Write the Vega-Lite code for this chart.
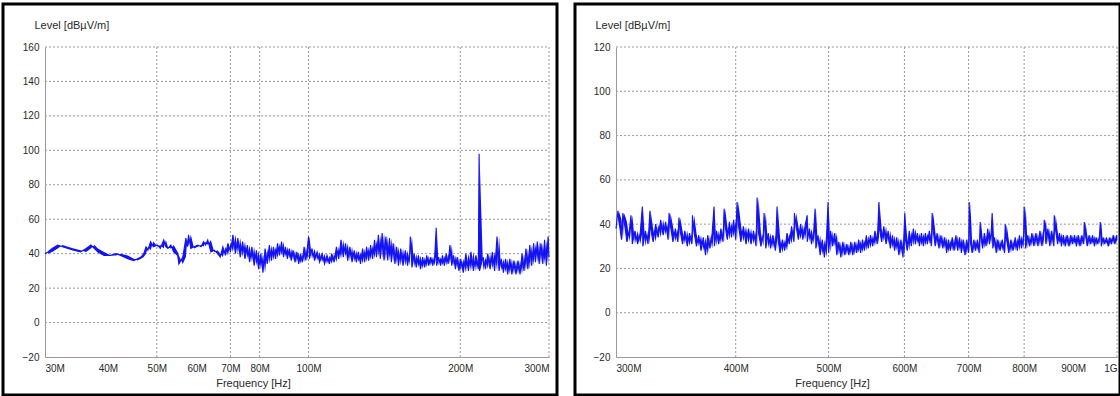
{
  "$schema": "https://vega.github.io/schema/vega-lite/v6.json",
  "padding": {"left": 1, "top": 2, "right": 2, "bottom": 1},
  "background": "white",
  "spacing": 18,
  "bounds": "flush",
  "config": {
    "view": {"stroke": "black", "strokeWidth": 3},
    "axis": {
      "labelFont": "Liberation Sans", "titleFont": "Liberation Sans",
      "labelFontSize": 10, "titleFontSize": 11, "titleFontWeight": "normal",
      "labelColor": "#2a2a2a", "titleColor": "#2a2a2a", "ticks": false,
      "domainColor": "#9a9a9a", "grid": false, "labelOverlap": false
    }
  },
  "datasets": {
    "a": [
      {"f":30,"v":40},{"f":30.4,"v":41},{"f":31,"v":43},{"f":31.8,"v":45},{"f":32.5,"v":44},{"f":33.3,"v":43},{"f":34.2,"v":42},{"f":35.3,"v":41},{"f":36.2,"v":43},{"f":37,"v":45},{"f":37.6,"v":43},{"f":38.2,"v":41},{"f":39.3,"v":39},{"f":40.5,"v":39},{"f":41.5,"v":40},{"f":42.4,"v":39},{"f":43.8,"v":37},{"f":45,"v":36},{"f":45.8,"v":37},{"f":46.5,"v":38},{"f":47.1,"v":40},{"f":47.6,"v":44},{"f":48,"v":42},{"f":48.6,"v":47},{"f":49.2,"v":44},{"f":50.2,"v":45},{"f":50.8,"v":43},{"f":51.6,"v":48},{"f":52.1,"v":44},{"f":52.6,"v":43},{"f":53.3,"v":45},{"f":54,"v":41},{"f":55,"v":39},{"f":55.3,"v":34},{"f":56.3,"v":38},{"f":57.1,"v":49},{"f":57.5,"v":44},{"f":57.8,"v":51},{"f":58.4,"v":43},{"f":59.3,"v":44},{"f":60.3,"v":45},{"f":61.2,"v":44},{"f":61.9,"v":47},{"f":62.5,"v":45},{"f":63.1,"v":48},{"f":64,"v":41},{"f":65,"v":42},{"f":66,"v":40},
      {"f":66.8,"v":38},{"f":67.6,"v":44},{"f":68.4,"v":39},{"f":69.2,"v":46},{"f":70,"v":41},{"f":70.8,"v":51},{"f":71.6,"v":40},{"f":72.4,"v":49},{"f":73.2,"v":38},{"f":74,"v":47},{"f":74.8,"v":37},{"f":75.6,"v":45},{"f":76.4,"v":35},{"f":77.2,"v":44},{"f":78,"v":33},{"f":78.8,"v":42},{"f":79.6,"v":31},{"f":80.4,"v":40},{"f":81.2,"v":29},{"f":82,"v":43},{"f":82.8,"v":34},{"f":83.6,"v":45},{"f":84.4,"v":36},{"f":85.2,"v":44},{"f":86,"v":37},{"f":86.8,"v":46},{"f":87.6,"v":39},{"f":88.4,"v":47},{"f":89.2,"v":38},{"f":90,"v":44},{"f":90.8,"v":37},{"f":91.6,"v":43},{"f":92.4,"v":36},{"f":93.2,"v":42},{"f":94,"v":35},{"f":94.8,"v":41},{"f":95.6,"v":34},{"f":96.4,"v":40},{"f":97.2,"v":35},{"f":98,"v":44},{"f":98.8,"v":36},{"f":99.6,"v":45},{"f":100,"v":50},{"f":100.4,"v":37},
      {"f":101.6,"v":43},{"f":102.8,"v":36},{"f":104,"v":41},{"f":105.2,"v":35},{"f":106.4,"v":40},{"f":107.6,"v":34},{"f":108.8,"v":39},{"f":110,"v":34},{"f":111.2,"v":40},{"f":112.4,"v":35},{"f":113.6,"v":44},{"f":114.8,"v":37},{"f":116,"v":48},{"f":117.2,"v":38},{"f":118.4,"v":46},{"f":119.6,"v":36},{"f":120.8,"v":44},{"f":122,"v":35},{"f":123.2,"v":42},{"f":124.4,"v":35},{"f":125.6,"v":41},{"f":126.8,"v":34},{"f":128,"v":43},{"f":129.2,"v":35},{"f":130.4,"v":44},{"f":131.6,"v":36},{"f":132.8,"v":45},{"f":134,"v":37},{"f":135.2,"v":48},{"f":136.4,"v":38},{"f":137.6,"v":51},{"f":138.8,"v":37},{"f":140,"v":52},{"f":141.2,"v":36},{"f":142.4,"v":50},{"f":143.6,"v":36},{"f":144.8,"v":49},{"f":146,"v":35},{"f":147.2,"v":46},{"f":148.4,"v":34},{"f":149.6,"v":44},
      {"f":150.8,"v":33},{"f":152.4,"v":43},{"f":154,"v":33},{"f":155.6,"v":42},{"f":157.2,"v":33},{"f":158.8,"v":41},{"f":159.2,"v":50},{"f":160.4,"v":32},{"f":162,"v":40},{"f":163.6,"v":32},{"f":165.2,"v":39},{"f":166.8,"v":31},{"f":168.4,"v":38},{"f":170,"v":32},{"f":171.6,"v":39},{"f":173.2,"v":33},{"f":174.8,"v":38},{"f":176.4,"v":33},{"f":178,"v":39},{"f":179.2,"v":55},{"f":179.6,"v":33},{"f":181.2,"v":38},{"f":182.8,"v":33},{"f":184.4,"v":39},{"f":186,"v":33},{"f":187.6,"v":40},{"f":189.2,"v":34},{"f":190.8,"v":45},{"f":192.4,"v":33},{"f":194,"v":39},{"f":195.6,"v":31},{"f":197.2,"v":38},{"f":198.8,"v":30},{"f":200.4,"v":37},
      {"f":202.8,"v":29},{"f":205.2,"v":40},{"f":207.6,"v":30},{"f":210,"v":41},{"f":212.4,"v":30},{"f":214.8,"v":39},{"f":217.2,"v":31},{"f":218,"v":98},{"f":218.4,"v":30},{"f":222,"v":38},{"f":224.4,"v":31},{"f":226.8,"v":40},{"f":229.2,"v":31},{"f":231.6,"v":41},{"f":234,"v":30},{"f":236.6,"v":50},{"f":238.8,"v":30},{"f":241.2,"v":37},{"f":243.6,"v":29},{"f":246,"v":37},{"f":248.4,"v":28},{"f":250.8,"v":37},{"f":253.2,"v":28},{"f":255.6,"v":36},{"f":258,"v":28},{"f":260.4,"v":36},{"f":262.8,"v":28},{"f":265.2,"v":40},{"f":267.6,"v":30},{"f":270,"v":43},{"f":272.4,"v":31},{"f":274.8,"v":45},{"f":277.2,"v":33},{"f":279.6,"v":46},{"f":282,"v":35},{"f":284.4,"v":47},{"f":286.8,"v":34},{"f":289.2,"v":46},{"f":291.6,"v":34},{"f":294,"v":48},{"f":296.4,"v":33},{"f":298.8,"v":50},{"f":300,"v":38}
    ],
    "b": [
      {"f":300,"v":38},{"f":301.4,"v":46},{"f":302,"v":42},{"f":304,"v":33},{"f":305,"v":45},{"f":306,"v":41},{"f":308,"v":32},{"f":310,"v":38},{"f":311,"v":44},{"f":312,"v":31},{"f":314,"v":37},{"f":316,"v":31},{"f":318,"v":36},{"f":319.6,"v":48},{"f":320,"v":30},{"f":322,"v":37},{"f":324,"v":31},{"f":325.5,"v":46},{"f":326,"v":38},{"f":328,"v":32},{"f":330,"v":40},{"f":332,"v":34},{"f":334,"v":42},{"f":336,"v":35},{"f":338,"v":41},{"f":340,"v":33},{"f":340.8,"v":45},{"f":342,"v":39},{"f":344,"v":32},{"f":346,"v":38},{"f":348,"v":32},{"f":349,"v":43},{"f":350,"v":37},{"f":352,"v":31},{"f":354,"v":37},{"f":356,"v":30},{"f":358,"v":36},{"f":360,"v":31},{"f":360.5,"v":44},{"f":362,"v":36},{"f":364,"v":30},{"f":366,"v":35},{"f":368,"v":28},{"f":370,"v":34},{"f":372,"v":26},{"f":374,"v":35},{"f":376,"v":29},{"f":378,"v":36},{"f":379.7,"v":48},{"f":380,"v":30},{"f":382,"v":37},{"f":384,"v":31},{"f":386,"v":38},{"f":388,"v":32},{"f":389,"v":47},{"f":390,"v":39},{"f":392,"v":33},{"f":394,"v":41},{"f":396,"v":34},{"f":398,"v":42},{"f":400,"v":33},
      {"f":401.3,"v":50},{"f":402.5,"v":40},{"f":405,"v":32},{"f":407.5,"v":39},{"f":410,"v":31},{"f":412.5,"v":38},{"f":415,"v":31},{"f":417.5,"v":37},{"f":420,"v":30},{"f":421.1,"v":52},{"f":422.5,"v":36},{"f":425,"v":30},{"f":427.5,"v":36},{"f":428.2,"v":45},{"f":430,"v":29},{"f":432.5,"v":36},{"f":435,"v":29},{"f":437.5,"v":35},{"f":440,"v":28},{"f":441.8,"v":48},{"f":442.5,"v":34},{"f":445,"v":27},{"f":447.5,"v":33},{"f":450,"v":28},{"f":452.5,"v":36},{"f":455,"v":31},{"f":457.5,"v":39},{"f":460,"v":32},{"f":460.6,"v":45},{"f":462.5,"v":39},{"f":465,"v":33},{"f":467.5,"v":40},{"f":470,"v":33},{"f":472.5,"v":39},{"f":474.9,"v":44},{"f":475,"v":32},{"f":477.5,"v":38},{"f":480,"v":31},{"f":482.5,"v":37},{"f":484.1,"v":47},{"f":485,"v":29},{"f":487.5,"v":35},{"f":490,"v":26},{"f":492.5,"v":33},{"f":495,"v":25},{"f":497.5,"v":34},{"f":499.4,"v":50},{"f":500,"v":27},{"f":502.5,"v":37},{"f":505,"v":30},{"f":507.5,"v":36},{"f":510,"v":26},{"f":512.5,"v":32},{"f":515,"v":25},{"f":517.5,"v":32},{"f":520,"v":26},{"f":522.5,"v":31},{"f":525,"v":26},{"f":527.5,"v":32},{"f":530,"v":26},{"f":532.5,"v":32},{"f":535,"v":27},{"f":537.5,"v":33},{"f":540,"v":27},{"f":542.5,"v":33},{"f":545,"v":28},{"f":547.5,"v":35},{"f":550,"v":29},
      {"f":553,"v":35},{"f":556,"v":30},{"f":559,"v":37},{"f":562,"v":31},{"f":564.3,"v":50},{"f":565,"v":38},{"f":568,"v":32},{"f":571,"v":39},{"f":574,"v":31},{"f":577,"v":37},{"f":580,"v":29},{"f":583,"v":35},{"f":586,"v":28},{"f":589,"v":34},{"f":592,"v":26},{"f":595,"v":33},{"f":598,"v":25},{"f":600.5,"v":45},{"f":601,"v":34},{"f":604,"v":28},{"f":607,"v":37},{"f":610,"v":30},{"f":613,"v":38},{"f":616,"v":31},{"f":619,"v":36},{"f":622,"v":30},{"f":625,"v":36},{"f":628,"v":30},{"f":631,"v":36},{"f":634,"v":31},{"f":637,"v":37},{"f":640,"v":30},{"f":641.3,"v":45},{"f":643,"v":37},{"f":646,"v":30},{"f":649,"v":36},{"f":652,"v":29},{"f":655,"v":35},{"f":658,"v":29},{"f":661,"v":34},{"f":664,"v":27},{"f":667,"v":33},{"f":670,"v":28},{"f":673,"v":34},{"f":676,"v":28},{"f":679,"v":35},{"f":682,"v":28},{"f":685,"v":34},{"f":688,"v":27},{"f":691,"v":33},{"f":694,"v":26},{"f":697,"v":33},{"f":700,"v":27},{"f":701,"v":50},{"f":703,"v":32},{"f":706,"v":27},{"f":709,"v":33},{"f":712,"v":28},{"f":715,"v":33},{"f":718,"v":27},{"f":719.8,"v":41},{"f":721,"v":34},{"f":724,"v":29},{"f":727,"v":36},{"f":730,"v":30},{"f":733,"v":38},{"f":736,"v":31},{"f":739,"v":36},{"f":740.8,"v":45},{"f":742,"v":29},{"f":745,"v":34},{"f":748,"v":27},
      {"f":751,"v":33},{"f":755,"v":28},{"f":759,"v":33},{"f":763,"v":27},{"f":764.4,"v":40},{"f":767,"v":33},{"f":771,"v":27},{"f":775,"v":33},{"f":779,"v":28},{"f":783,"v":34},{"f":787,"v":28},{"f":791,"v":35},{"f":795,"v":29},{"f":799,"v":35},{"f":800,"v":48},{"f":803,"v":29},{"f":807,"v":35},{"f":811,"v":30},{"f":815,"v":36},{"f":819,"v":30},{"f":823,"v":36},{"f":827,"v":30},{"f":831,"v":37},{"f":835,"v":30},{"f":839,"v":38},{"f":839.5,"v":42},{"f":843,"v":31},{"f":847,"v":38},{"f":851,"v":30},{"f":855,"v":37},{"f":859,"v":30},{"f":860,"v":44},{"f":863,"v":37},{"f":867,"v":31},{"f":871,"v":36},{"f":875,"v":30},{"f":879,"v":35},{"f":883,"v":30},{"f":887,"v":35},{"f":891,"v":30},{"f":895,"v":35},{"f":899,"v":31},{"f":903,"v":35},{"f":907,"v":30},{"f":911,"v":35},{"f":915,"v":30},{"f":919,"v":35},{"f":923,"v":31},{"f":924.3,"v":41},{"f":927,"v":35},{"f":931,"v":30},{"f":935,"v":35},{"f":939,"v":31},{"f":943,"v":35},{"f":947,"v":30},{"f":951,"v":34},{"f":955,"v":31},{"f":959,"v":35},{"f":960.5,"v":41},{"f":963,"v":30},{"f":967,"v":34},{"f":971,"v":31},{"f":975,"v":34},{"f":979,"v":30},{"f":983,"v":34},{"f":987,"v":31},{"f":991,"v":35},{"f":995,"v":31},{"f":999,"v":35},{"f":1000,"v":33}
    ],
    "gxa": [{"g":50},{"g":70},{"g":80},{"g":100},{"g":200},{"g":300}],
    "gya": [{"h":0},{"h":20},{"h":40},{"h":60},{"h":80},{"h":100},{"h":120},{"h":140},{"h":160}],
    "gxb": [{"g":400},{"g":500},{"g":600},{"g":700},{"g":800},{"g":1000}],
    "gyb": [{"h":0},{"h":20},{"h":40},{"h":60},{"h":80},{"h":100},{"h":120}]
  },
  "hconcat": [
    {
      "width": 554,
      "height": 391,
      "layer": [
        {
          "data": {"name": "gya"},
          "mark": {"type": "rule", "color": "#9a9a9a", "strokeWidth": 1, "strokeDash": [2, 2]},
          "encoding": {
            "y": {"field": "h", "type": "quantitative"},
            "x": {"datum": 30, "type": "quantitative"},
            "x2": {"datum": 300}
          }
        },
        {
          "data": {"name": "gxa"},
          "mark": {"type": "rule", "color": "#9a9a9a", "strokeWidth": 1, "strokeDash": [2, 2]},
          "encoding": {
            "x": {"field": "g", "type": "quantitative"},
            "y": {"datum": -20, "type": "quantitative"},
            "y2": {"datum": 160}
          }
        },
        {
          "data": {"name": "a"},
          "transform": [
            {"window": [{"op": "lag", "field": "v", "as": "pv"}], "sort": [{"field": "f"}]},
            {"filter": "datum.pv != null"}
          ],
          "mark": {"type": "area", "color": "#1212f2", "opacity": 1},
          "encoding": {
            "x": {"field": "f", "type": "quantitative"},
            "y": {"field": "v", "type": "quantitative"},
            "y2": {"field": "pv"}
          }
        },
        {
          "data": {"name": "a"},
          "mark": {"type": "line", "color": "#1212f2", "strokeWidth": 1.1},
          "encoding": {
            "x": {
              "field": "f", "type": "quantitative",
              "scale": {"type": "log", "domain": [30, 300], "range": [42, 546], "nice": false},
              "axis": {
                "title": "Frequency [Hz]", "values": [30, 40, 50, 60, 70, 80, 100, 200, 300],
                "labelExpr": "datum.value + 'M'", "labelFlush": true, "offset": -38,
                "labelPadding": 6, "titleX": 250, "titleY": 26, "titleAlign": "center", "titleBaseline": "middle"
              }
            },
            "y": {
              "field": "v", "type": "quantitative",
              "scale": {"domain": [-20, 160], "range": [353, 43], "nice": false, "zero": false},
              "axis": {
                "title": "Level [dBµV/m]", "values": [-20, 0, 20, 40, 60, 80, 100, 120, 140, 160],
                "offset": -42, "labelPadding": 6, "titleAngle": 0, "titleX": -11, "titleY": 21,
                "titleAlign": "left", "titleBaseline": "middle"
              }
            }
          }
        }
      ]
    },
    {
      "width": 545,
      "height": 391,
      "layer": [
        {
          "data": {"name": "gyb"},
          "mark": {"type": "rule", "color": "#9a9a9a", "strokeWidth": 1, "strokeDash": [2, 2]},
          "encoding": {
            "y": {"field": "h", "type": "quantitative"},
            "x": {"datum": 300, "type": "quantitative"},
            "x2": {"datum": 1000}
          }
        },
        {
          "data": {"name": "gxb"},
          "mark": {"type": "rule", "color": "#9a9a9a", "strokeWidth": 1, "strokeDash": [2, 2]},
          "encoding": {
            "x": {"field": "g", "type": "quantitative"},
            "y": {"datum": -20, "type": "quantitative"},
            "y2": {"datum": 120}
          }
        },
        {
          "data": {"name": "b"},
          "transform": [
            {"window": [{"op": "lag", "field": "v", "as": "pv"}], "sort": [{"field": "f"}]},
            {"filter": "datum.pv != null"}
          ],
          "mark": {"type": "area", "color": "#1212f2", "opacity": 1},
          "encoding": {
            "x": {"field": "f", "type": "quantitative"},
            "y": {"field": "v", "type": "quantitative"},
            "y2": {"field": "pv"}
          }
        },
        {
          "data": {"name": "b"},
          "mark": {"type": "line", "color": "#1212f2", "strokeWidth": 1.1},
          "encoding": {
            "x": {
              "field": "f", "type": "quantitative",
              "scale": {"type": "log", "domain": [300, 1000], "range": [41, 542], "nice": false},
              "axis": {
                "title": "Frequency [Hz]", "values": [300, 400, 500, 600, 700, 800, 900, 1000],
                "labelExpr": "datum.value >= 1000 ? '1G' : datum.value + 'M'", "labelFlush": true, "offset": -38,
                "labelPadding": 6, "titleX": 257, "titleY": 26, "titleAlign": "center", "titleBaseline": "middle"
              }
            },
            "y": {
              "field": "v", "type": "quantitative",
              "scale": {"domain": [-20, 120], "range": [353, 43], "nice": false, "zero": false},
              "axis": {
                "title": "Level [dBµV/m]", "values": [-20, 0, 20, 40, 60, 80, 100, 120],
                "offset": -41, "labelPadding": 6, "titleAngle": 0, "titleX": -21, "titleY": 21,
                "titleAlign": "left", "titleBaseline": "middle"
              }
            }
          }
        }
      ]
    }
  ]
}
